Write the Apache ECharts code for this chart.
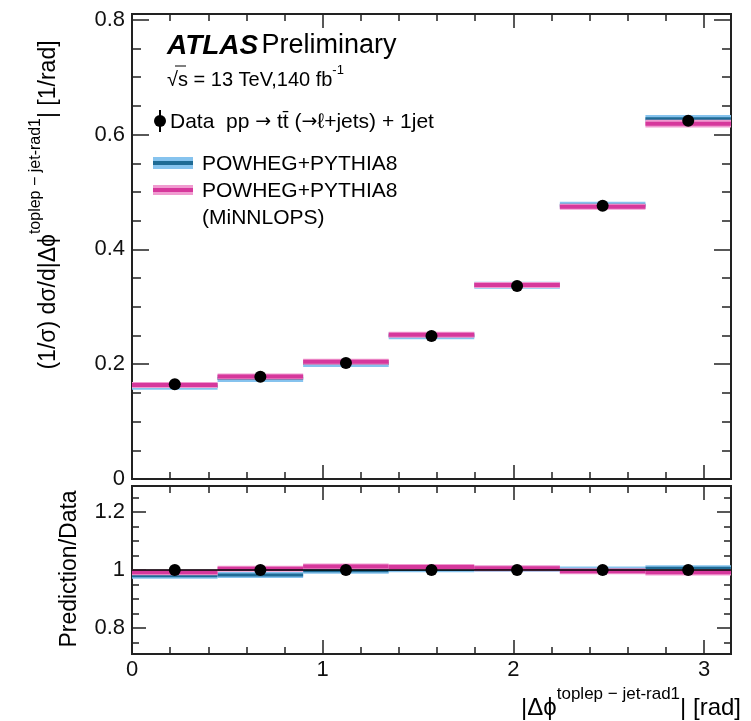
<!DOCTYPE html>
<html>
<head>
<meta charset="utf-8">
<script src="https://cdn.jsdelivr.net/npm/echarts@6/dist/echarts.min.js"></script>
<style>
  html, body { margin: 0; padding: 0; background: #fff; }
  #chart { width: 751px; height: 721px; }
</style>
</head>
<body>
<div id="chart"></div>
<script>
// bin edges of |dphi| (7 bins of pi/7)
var binEdges = [0, 0.4488, 0.8976, 1.3464, 1.7952, 2.2440, 2.6928, 3.1416];
// normalised cross-section, data
var dataVals = [0.165, 0.178, 0.202, 0.249, 0.336, 0.476, 0.624];
// prediction / data
var ratioPowheg = [0.980, 0.983, 0.997, 1.003, 1.004, 1.002, 1.006];
var ratioMinnlops = [0.992, 1.004, 1.012, 1.010, 1.006, 0.996, 0.992];
// relative uncertainty of the predictions
var uncPowheg = [0.009, 0.008, 0.007, 0.007, 0.006, 0.007, 0.010];
var uncMinnlops = [0.010, 0.009, 0.008, 0.008, 0.007, 0.008, 0.011];
// ticks
var xMajor = [0, 1, 2, 3];
var xMinor = [0.2, 0.4, 0.6, 0.8, 1.2, 1.4, 1.6, 1.8, 2.2, 2.4, 2.6, 2.8, 3.0];
var yTopMajor = [0, 0.2, 0.4, 0.6, 0.8];
var yTopMinor = [0.05, 0.1, 0.15, 0.25, 0.3, 0.35, 0.45, 0.5, 0.55, 0.65, 0.7, 0.75];
var yRatMajor = [0.8, 1, 1.2];
var yRatMinor = [0.75, 0.85, 0.9, 0.95, 1.05, 1.1, 1.15, 1.25];

var FONT = '"Liberation Sans", Arial, sans-serif';
var SYM = '"DejaVu Sans", sans-serif';
var AX = '#222';

var centers = [];
for (var i = 0; i < dataVals.length; i++) centers.push((binEdges[i] + binEdges[i + 1]) / 2);

function bands(ratio, unc, top) {
  var out = [];
  for (var i = 0; i < ratio.length; i++) {
    var v = top ? dataVals[i] * ratio[i] : ratio[i];
    out.push([binEdges[i], binEdges[i + 1], v, v * unc[i]]);
  }
  return out;
}

function bandItem(light, dark, minHalf, core) {
  return function (params, api) {
    var x0 = api.value(0), x1 = api.value(1), v = api.value(2), u = api.value(3);
    var a = api.coord([x0, v + u]), b = api.coord([x1, v - u]), c = api.coord([x0, v]);
    var half = Math.max((b[1] - a[1]) / 2, minHalf);
    var w = b[0] - a[0];
    return {
      type: 'group',
      children: [
        { type: 'rect', shape: { x: a[0], y: c[1] - half, width: w, height: 2 * half }, style: { fill: light } },
        { type: 'rect', shape: { x: a[0], y: c[1] - core / 2, width: w, height: core }, style: { fill: dark } }
      ]
    };
  };
}

function fmt(v) { return v === 0 ? '0' : String(+v.toFixed(1)); }

function mkX(grid, pos, ticks, len, labels) {
  return {
    type: 'value', gridIndex: grid, position: pos, min: binEdges[0], max: binEdges[7],
    axisLine: { show: true, onZero: false, lineStyle: { color: AX, width: 2 } },
    axisTick: { show: true, inside: true, length: len, customValues: ticks, lineStyle: { color: AX, width: 1.5 } },
    axisLabel: labels ? { show: true, customValues: labels, margin: 5, fontSize: 22, color: '#111', fontFamily: FONT, formatter: fmt } : { show: false },
    splitLine: { show: false }
  };
}

function mkY(grid, pos, lo, hi, ticks, len, labels) {
  return {
    type: 'value', gridIndex: grid, position: pos, min: lo, max: hi,
    axisLine: { show: true, onZero: false, lineStyle: { color: AX, width: 2 } },
    axisTick: { show: true, inside: true, length: len, customValues: ticks, lineStyle: { color: AX, width: 1.5 } },
    axisLabel: labels ? { show: true, customValues: labels, margin: 7, fontSize: 22, color: '#111', fontFamily: FONT, formatter: fmt } : { show: false },
    splitLine: { show: false }
  };
}

var myChart = echarts.init(document.getElementById('chart'));

var option = {
  animation: false,
  backgroundColor: '#fff',
  grid: [
    { left: 132, top: 14, width: 599, height: 465, outerBoundsMode: 'none' },
    { left: 132, top: 486, width: 599, height: 168, outerBoundsMode: 'none' }
  ],
  xAxis: [
    mkX(0, 'bottom', xMajor, 14, null),   // 0
    mkX(0, 'bottom', xMinor, 7, null),
    mkX(0, 'top', xMajor, 14, null),
    mkX(0, 'top', xMinor, 7, null),
    mkX(1, 'bottom', xMajor, 14, xMajor), // 4
    mkX(1, 'bottom', xMinor, 7, null),
    mkX(1, 'top', xMajor, 14, null),
    mkX(1, 'top', xMinor, 7, null)
  ],
  yAxis: [
    mkY(0, 'left', 0, 0.81, yTopMajor, 17, yTopMajor), // 0
    mkY(0, 'left', 0, 0.81, yTopMinor, 9, null),
    mkY(0, 'right', 0, 0.81, yTopMajor, 17, null),
    mkY(0, 'right', 0, 0.81, yTopMinor, 9, null),
    mkY(1, 'left', 0.71, 1.29, yRatMajor, 14, yRatMajor), // 4
    mkY(1, 'left', 0.71, 1.29, yRatMinor, 7, null),
    mkY(1, 'right', 0.71, 1.29, yRatMajor, 14, null),
    mkY(1, 'right', 0.71, 1.29, yRatMinor, 7, null)
  ],
  series: [
    { type: 'custom', xAxisIndex: 0, yAxisIndex: 0, z: 2, data: bands(ratioPowheg, uncPowheg, true),
      renderItem: bandItem('#86c3ee', '#1f6b95', 3.5, 3) },
    { type: 'custom', xAxisIndex: 0, yAxisIndex: 0, z: 3, data: bands(ratioMinnlops, uncMinnlops, true),
      renderItem: bandItem('#f09bd0', '#d6389c', 3, 4) },
    { type: 'scatter', xAxisIndex: 0, yAxisIndex: 0, z: 5, symbolSize: 12, itemStyle: { color: '#000', opacity: 1 },
      data: centers.map(function (c, i) { return [c, dataVals[i]]; }) },

    { type: 'custom', xAxisIndex: 4, yAxisIndex: 4, z: 2, data: bands(ratioPowheg, uncPowheg, false),
      renderItem: bandItem('#86c3ee', '#1f6b95', 3, 3) },
    { type: 'custom', xAxisIndex: 4, yAxisIndex: 4, z: 3, data: bands(ratioMinnlops, uncMinnlops, false),
      renderItem: bandItem('#f09bd0', '#d6389c', 3, 4) },
    { type: 'line', xAxisIndex: 4, yAxisIndex: 4, z: 4, showSymbol: false, silent: true,
      lineStyle: { color: '#000', width: 1.5 }, data: [[binEdges[0], 1], [binEdges[7], 1]] },
    { type: 'scatter', xAxisIndex: 4, yAxisIndex: 4, z: 5, symbolSize: 12, itemStyle: { color: '#000', opacity: 1 },
      data: centers.map(function (c) { return [c, 1]; }) }
  ],
  graphic: [
    { type: 'text', x: 167, y: 46, style: {
        text: '{b|ATLAS} {n|Preliminary}', verticalAlign: 'middle',
        rich: { b: { fontFamily: FONT, fontSize: 28, fontWeight: 'bold', fontStyle: 'italic', fill: '#000' },
                n: { fontFamily: FONT, fontSize: 27, fill: '#000' } } } },
    { type: 'text', x: 167, y: 77, style: {
        text: '{m|√s = 13 TeV,140 fb}{s|-1}', verticalAlign: 'middle',
        rich: { m: { fontFamily: FONT, fontSize: 20, fill: '#000', lineHeight: 26, verticalAlign: 'bottom' },
                s: { fontFamily: FONT, fontSize: 13, fill: '#000', lineHeight: 26, verticalAlign: 'top' } } } },
    { type: 'line', shape: { x1: 175, y1: 66, x2: 186, y2: 66 }, style: { stroke: '#000', lineWidth: 1 } },

    // legend: data
    { type: 'line', shape: { x1: 160, y1: 110, x2: 160, y2: 132 }, style: { stroke: '#000', lineWidth: 2 } },
    { type: 'circle', shape: { cx: 160, cy: 121, r: 6 }, style: { fill: '#000' } },
    { type: 'text', x: 170, y: 122, style: {
        text: '{t|Data  pp }{a|→}{t| tt̄ (}{a|→}{t|ℓ+jets) + 1jet}', verticalAlign: 'middle',
        rich: { t: { fontFamily: FONT, fontSize: 21, fill: '#000' },
                a: { fontFamily: SYM, fontSize: 19, fill: '#000' } } } },
    // legend: powheg
    { type: 'rect', shape: { x: 153, y: 157, width: 40, height: 12 }, style: { fill: '#86c3ee' } },
    { type: 'rect', shape: { x: 153, y: 161, width: 40, height: 4 }, style: { fill: '#1f6b95' } },
    { type: 'text', x: 202, y: 164, style: { text: 'POWHEG+PYTHIA8', verticalAlign: 'middle',
        fontFamily: FONT, fontSize: 21, fill: '#000' } },
    // legend: minnlops
    { type: 'rect', shape: { x: 153, y: 185, width: 40, height: 10 }, style: { fill: '#f09bd0' } },
    { type: 'rect', shape: { x: 153, y: 188, width: 40, height: 4 }, style: { fill: '#d6389c' } },
    { type: 'text', x: 202, y: 191, style: { text: 'POWHEG+PYTHIA8', verticalAlign: 'middle',
        fontFamily: FONT, fontSize: 21, fill: '#000' } },
    { type: 'text', x: 202, y: 218, style: { text: '(MiNNLOPS)', verticalAlign: 'middle',
        fontFamily: FONT, fontSize: 21, fill: '#000' } },

    // axis titles
    { type: 'text', x: 44, y: 205, rotation: Math.PI / 2, style: {
        text: '{m|(1/σ) dσ/d|Δϕ}{s|toplep − jet-rad1}{m|| [1/rad]}', align: 'center', verticalAlign: 'middle',
        rich: { m: { fontFamily: FONT, fontSize: 23, fill: '#000', lineHeight: 32, verticalAlign: 'bottom' },
                s: { fontFamily: FONT, fontSize: 16, fill: '#000', lineHeight: 32, verticalAlign: 'top' } } } },
    { type: 'text', x: 70, y: 569, rotation: Math.PI / 2, style: {
        text: 'Prediction/Data', align: 'center', verticalAlign: 'middle',
        fontFamily: FONT, fontSize: 23, fill: '#000' } },
    { type: 'text', x: 741, y: 703, style: {
        text: '{m||Δϕ}{s|toplep − jet-rad1}{m|| [rad]}', align: 'right', verticalAlign: 'middle',
        rich: { m: { fontFamily: FONT, fontSize: 24, fill: '#000', lineHeight: 34, verticalAlign: 'bottom' },
                s: { fontFamily: FONT, fontSize: 17, fill: '#000', lineHeight: 34, verticalAlign: 'top' } } } }
  ]
};

myChart.setOption(option);
</script>
</body>
</html>
